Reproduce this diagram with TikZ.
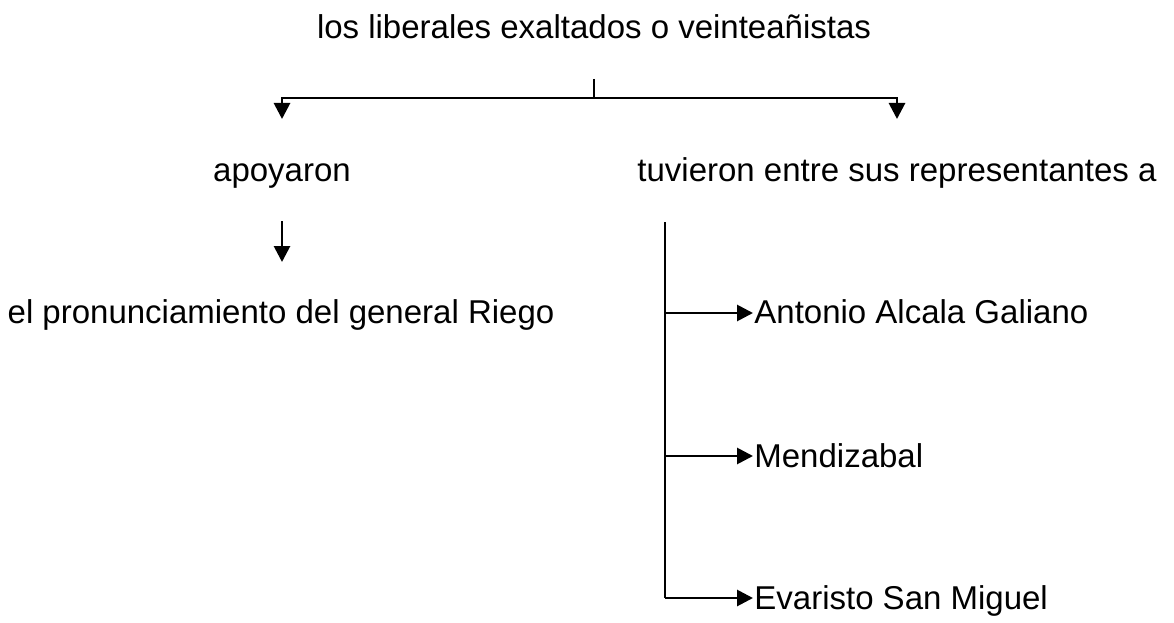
\documentclass[tikz,border=0pt]{standalone}
\usepackage{fontspec}
\setmainfont{Liberation Sans}
\usetikzlibrary{arrows.meta}
\usetikzlibrary{positioning}

\begin{document}
\begin{tikzpicture}
	[x=1pt,y=-1pt,line width=2.8pt,
	 every node/.style={font=\fontsize{33}{38}\selectfont,inner sep=0pt,anchor=base},
	 tip/.style={-{Triangle[length=16pt,width=16pt]}}]
	\useasboundingbox (0,0) rectangle (1174,623);
	\node (lib) at (594,39) {los liberales exaltados o veinteañistas};
	\node (apo) at (282,181) {apoyaron};
	\node (tuv) at (897,181) {tuvieron entre sus representantes a};
	\node (rie) at (281,323) {el pronunciamiento del general Riego};
	\node[anchor=base west] (ant) at (753,323) {Antonio Alcala Galiano};
	\node[anchor=base west] (men) at (753,467) {Mendizabal};
	\node[anchor=base west] (eva) at (753,609) {Evaristo San Miguel};
	
	\coordinate (tick) at (594,79);
	\coordinate (mid) at (594,98);
	\coordinate (lj) at (282,98);
	\coordinate (rj) at (897,98);
	\coordinate (la) at (282,119);
	\coordinate (ra) at (897,119);
	\coordinate (ds) at (282,221);
	\coordinate (de) at (282,262);
	\coordinate (vt) at (665,222);
	\coordinate (b1) at (665,313);
	\coordinate (b2) at (665,456);
	\coordinate (b3) at (665,598);
	
	\draw (tick) -- (mid);
	\draw[tip] (mid) -- (lj) -- (la);
	\draw[tip] (mid) -- (rj) -- (ra);
	\draw[tip] (ds) -- (de);
	\draw (vt) -- (b3);
	\foreach \from/\to in {b1/ant, b2/men, b3/eva}
		\draw[tip] (\from) -- (\from -| \to.west);
\end{tikzpicture}
\end{document}
